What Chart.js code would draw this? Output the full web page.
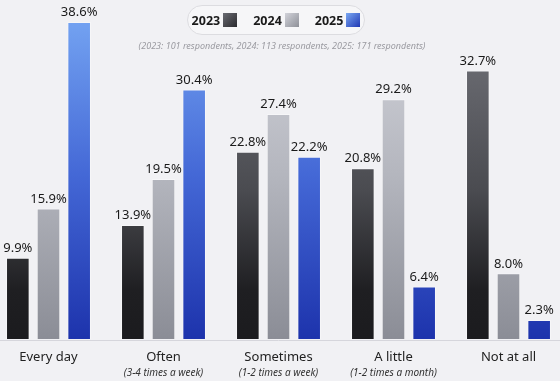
<!DOCTYPE html>
<html lang="en">
<head>
    <meta charset="UTF-8">
    <title>Frequency of use</title>
    <style>
        body {
            margin: 0;
            padding: 0;
            width: 560px;
            height: 381px;
            overflow: hidden;
            background: #f1f1f4;
            font-family: 'Noto Sans', sans-serif;
            position: relative;
        }

        .chart-box {
            position: absolute;
            left: -9px;
            top: 0;
            width: 575px;
            height: 381px;
        }

        .legend {
            position: absolute;
            left: 187px;
            top: 5px;
            width: 176px;
            height: 28px;
            border: 1px solid #dcdce0;
            border-radius: 15px;
            background: #f6f6f8;
            display: flex;
            align-items: center;
            justify-content: center;
            gap: 16px;
            z-index: 2;
        }

        .legend span {
            display: flex;
            align-items: center;
            font-weight: 700;
            font-size: 12.5px;
            color: #1a1a1a;
        }

        .legend i {
            display: inline-block;
            width: 14px;
            height: 14px;
            margin-left: 3px;
        }

        .note {
            position: absolute;
            left: 0;
            width: 564px;
            top: 39px;
            text-align: center;
            font-style: italic;
            font-size: 9px;
            color: #9a9aa0;
            z-index: 2;
        }
    </style>
    <script src="https://cdn.jsdelivr.net/npm/chart.js"></script>
</head>
<body>
    <div class="legend">
        <span>2023<i style="background: linear-gradient(135deg, #6a6b72, #2a2a2e)"></i></span>
        <span>2024<i style="background: linear-gradient(135deg, #d2d3da, #8e9098)"></i></span>
        <span>2025<i style="background: linear-gradient(135deg, #7aa8f2, #2038b4)"></i></span>
    </div>
    <div class="note">(2023: 101 respondents, 2024: 113 respondents, 2025: 171 respondents)</div>
    <div class="chart-box">
        <canvas id="chartCanvas"></canvas>
    </div>

    <script>
        const categories = ['Every day', 'Often', 'Sometimes', 'A little', 'Not at all'];
        const subLabels = ['', '(3-4 times a week)', '(1-2 times a week)', '(1-2 times a month)', ''];
        const years = ['2023', '2024', '2025'];
        const values2023 = [9.9, 13.9, 22.8, 20.8, 32.7];
        const values2024 = [15.9, 19.5, 27.4, 29.2, 8.0];
        const values2025 = [38.6, 30.4, 22.2, 6.4, 2.3];

        // gradient stops per year, top -> bottom of the plot area
        const gradStops = [
            [[0, '#75767d'], [0.55, '#4a4b50'], [0.85, '#1f1f22'], [1, '#1b1b1e']],
            [[0, '#d4d5dc'], [0.5, '#b4b6be'], [1, '#8b8d96']],
            [[0, '#76a6f3'], [0.5, '#4468d6'], [1, '#1d33ac']]
        ];

        function barFill(idx) {
            return function (context) {
                const area = context.chart.chartArea;
                if (!area) return gradStops[idx][1][1];
                const g = context.chart.ctx.createLinearGradient(0, area.top, 0, area.bottom);
                gradStops[idx].forEach(s => g.addColorStop(s[0], s[1]));
                return g;
            };
        }

        const labelsPlugin = {
            id: 'labels',
            afterDatasetsDraw(chart) {
                const ctx = chart.ctx;
                const area = chart.chartArea;
                ctx.save();
                // baseline
                ctx.strokeStyle = '#d6d6dc';
                ctx.lineWidth = 1;
                ctx.beginPath();
                ctx.moveTo(0, area.bottom + 1.5);
                ctx.lineTo(chart.width, area.bottom + 1.5);
                ctx.stroke();

                // value labels
                ctx.fillStyle = '#1a1a1a';
                ctx.font = '13px "Noto Sans"';
                ctx.textAlign = 'center';
                ctx.textBaseline = 'bottom';
                chart.data.datasets.forEach((ds, i) => {
                    chart.getDatasetMeta(i).data.forEach((bar, j) => {
                        ctx.fillText(ds.data[j].toFixed(1) + '%', bar.x, bar.y - 3);
                    });
                });

                // category labels
                const xs = chart.scales.x;
                ctx.textBaseline = 'middle';
                categories.forEach((c, j) => {
                    const x = xs.getPixelForValue(j);
                    ctx.fillStyle = '#222';
                    ctx.font = '13px "Noto Sans"';
                    ctx.fillText(c, x, 357);
                    if (subLabels[j]) {
                        ctx.fillStyle = '#333';
                        ctx.font = 'italic 10px "Noto Sans"';
                        ctx.fillText(subLabels[j], x, 373);
                    }
                });
                ctx.restore();
            }
        };

        const datasetValues = [values2023, values2024, values2025];

        new Chart(document.getElementById('chartCanvas'), {
            type: 'bar',
            data: {
                labels: categories,
                datasets: years.map((y, i) => ({
                    label: y,
                    data: datasetValues[i],
                    backgroundColor: barFill(i),
                    borderColor: 'rgba(255,255,255,0.35)',
                    borderWidth: 1,
                    categoryPercentage: 0.8,
                    barPercentage: 0.77
                }))
            },
            options: {
                responsive: true,
                maintainAspectRatio: false,
                animation: false,
                layout: {
                    padding: { top: 10.6, bottom: 42, left: 0, right: 0 }
                },
                scales: {
                    x: { display: false },
                    y: { display: false, min: 0, max: 40 }
                },
                plugins: {
                    legend: { display: false },
                    tooltip: { enabled: false }
                }
            },
            plugins: [labelsPlugin]
        });
    </script>
</body>
</html>
